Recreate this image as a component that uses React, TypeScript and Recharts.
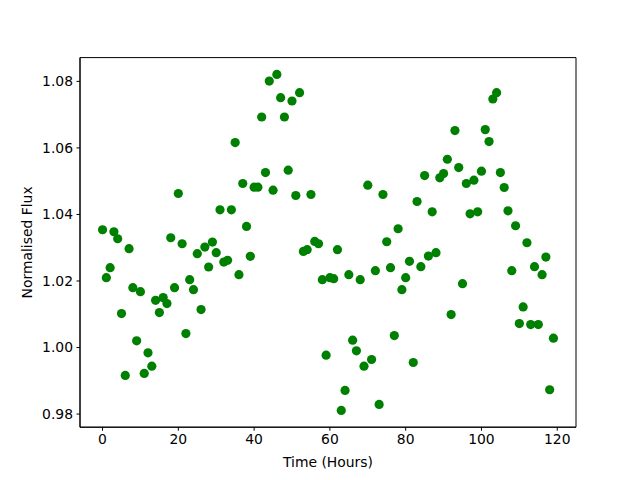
import { ScatterChart, Scatter, XAxis, YAxis, ReferenceArea } from 'recharts'

// hours since start, one reading per hour
const hours = Array.from({ length: 120 }, (_, i) => i)

const flux = [
  1.0354, 1.021, 1.024, 1.0348, 1.0327, 1.0102, 0.9916, 1.0297, 1.018, 1.002,
  1.0168, 0.9922, 0.9984, 0.9944, 1.0142, 1.0105, 1.015, 1.0132, 1.033, 1.018,
  1.0463, 1.0312, 1.0042, 1.0204, 1.0174, 1.0282, 1.0114, 1.0302, 1.0242, 1.0317,
  1.0285, 1.0414, 1.0257, 1.0262, 1.0414, 1.0616, 1.0219, 1.0493, 1.0364, 1.0274,
  1.0482, 1.0482, 1.0693, 1.0526, 1.0801, 1.0473, 1.0821, 1.0751, 1.0693, 1.0533,
  1.0741, 1.0457, 1.0766, 1.0289, 1.0294, 1.046, 1.0319, 1.0312, 1.0204, 0.9977,
  1.021, 1.0207, 1.0294, 0.9811, 0.9871, 1.0219, 1.0022, 0.999, 1.0204, 0.9944,
  1.0488, 0.9964, 1.0231, 0.9829, 1.046, 1.0318, 1.024, 1.0036, 1.0357, 1.0174,
  1.021, 1.0259, 0.9955, 1.0439, 1.0243, 1.0517, 1.0275, 1.0408, 1.0285, 1.051,
  1.0523, 1.0566, 1.0099, 1.0652, 1.0541, 1.0192, 1.0493, 1.0402, 1.0503, 1.0408,
  1.053, 1.0655, 1.0619, 1.0747, 1.0766, 1.0526, 1.0481, 1.0411, 1.0231, 1.0366,
  1.0072, 1.0122, 1.0315, 1.0069, 1.0243, 1.0069, 1.0219, 1.0272, 0.9873, 1.0028,
]

const xTicks = [0, 20, 40, 60, 80, 100, 120]
const yTicks = [0.98, 1.0, 1.02, 1.04, 1.06, 1.08]

// matplotlib-style 5% margins
const xMin = Math.min(...hours)
const xMax = Math.max(...hours)
const yMin = Math.min(...flux)
const yMax = Math.max(...flux)
const xPad = (xMax - xMin) * 0.05
const yPad = (yMax - yMin) * 0.05
const xDomain: [number, number] = [xMin - xPad, xMax + xPad]
const yDomain: [number, number] = [yMin - yPad, yMax + yPad]

const data = hours.map((h, i) => ({ t: h, flux: flux[i] }))

const font = '"DejaVu Sans", sans-serif'
const tickStyle = { fontSize: 13.9, fill: '#000', fontFamily: font }

function Dot(props: any) {
  return <circle cx={props.cx} cy={props.cy} r={4.6} fill="#008000" />
}

export default function App() {
  return (
    <div style={{ position: 'absolute', left: 0, top: 0, width: 640, height: 480, background: '#fff' }}>
      <ScatterChart width={640} height={480} margin={{ top: 57.6, right: 64, bottom: 22.8, left: 20 }}>
        <XAxis
          type="number"
          dataKey="t"
          domain={xDomain}
          ticks={xTicks}
          allowDataOverflow
          tick={tickStyle}
          tickSize={3.5}
          tickMargin={3.5}
          height={30}
          stroke="#000"
          label={{
            content: ({ viewBox }: any) => (
              <text
                x={viewBox.x + viewBox.width / 2}
                y={viewBox.y + 40}
                textAnchor="middle"
                fontSize={13.9}
                fontFamily={font}
                fill="#000"
              >
                Time (Hours)
              </text>
            ),
          }}
        />
        <YAxis
          type="number"
          dataKey="flux"
          domain={yDomain}
          ticks={yTicks}
          allowDataOverflow
          tickFormatter={(v) => v.toFixed(2)}
          tick={tickStyle}
          tickSize={3.5}
          tickMargin={3.5}
          width={60}
          stroke="#000"
          label={{
            content: ({ viewBox }: any) => {
              const x = viewBox.x + 12
              const y = viewBox.y + viewBox.height / 2
              return (
                <text
                  x={x}
                  y={y}
                  transform={`rotate(-90, ${x}, ${y})`}
                  textAnchor="middle"
                  fontSize={13.9}
                  fontFamily={font}
                  fill="#000"
                >
                  Normalised Flux
                </text>
              )
            },
          }}
        />
        <ReferenceArea
          x1={xDomain[0]}
          x2={xDomain[1]}
          y1={yDomain[0]}
          y2={yDomain[1]}
          fill="none"
          stroke="#000"
          strokeWidth={1}
          fillOpacity={0}
        />
        <Scatter data={data} shape={<Dot />} isAnimationActive={false} />
      </ScatterChart>
    </div>
  )
}
